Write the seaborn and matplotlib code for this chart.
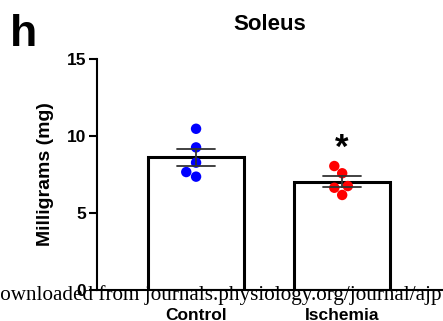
import numpy as np
import pandas as pd
import matplotlib
matplotlib.use("Agg")
import matplotlib.pyplot as plt
import seaborn as sns

# ---- data ----
groups = ["Control", "Ischemia"]
control_mg = [10.47, 9.26, 8.27, 7.66, 7.36]
ischemia_mg = [8.05, 7.58, 6.75, 6.64, 6.17]
point_colors = ["#0000FF", "#FF0000"]
y_ticks = [0, 5, 10, 15]
title = "Soleus"
y_label = "Milligrams (mg)"
panel_letter = "h"
sig_marker = "*"
watermark = "Downloaded from journals.physiology.org/journal/ajp"

df = pd.DataFrame({
    "group": [groups[0]] * len(control_mg) + [groups[1]] * len(ischemia_mg),
    "mg": control_mg + ischemia_mg,
})

sns.set_style("ticks")
plt.rcParams["font.family"] = ["Liberation Sans", "DejaVu Sans"]
plt.rcParams["font.weight"] = "bold"
plt.rcParams["text.color"] = "black"
plt.rcParams["axes.labelcolor"] = "black"
plt.rcParams["xtick.color"] = "black"
plt.rcParams["ytick.color"] = "black"

fig = plt.figure(figsize=(4.43, 3.21), dpi=100)
ax = fig.add_axes([97 / 443, 1 - 290 / 321, 1 - 97 / 443, (290 - 59) / 321])

sns.barplot(data=df, x="group", y="mg", order=groups, errorbar="se",
            capsize=0.26, width=0.66, color="white", edgecolor="black",
            linewidth=2.2, err_kws={"color": "#333333", "linewidth": 1.3, "zorder": 5},
            ax=ax)
sns.swarmplot(data=df, x="group", y="mg", order=groups, hue="group",
              palette=point_colors, size=7.5, legend=False, zorder=4, ax=ax)

ax.set_ylim(0, 15)
ax.set_xlim(-0.678, 1.69)
ax.set_yticks(y_ticks)
ax.set_xlabel("")
ax.set_ylabel(y_label, fontsize=14, fontweight="bold", labelpad=9, color="black")
ax.set_title(title, fontsize=16, fontweight="bold", pad=21, color="black")
for s in ["top", "right"]:
    ax.spines[s].set_visible(False)
for s in ["left", "bottom"]:
    ax.spines[s].set_linewidth(1.5)
    ax.spines[s].set_color("black")
ax.tick_params(axis="y", length=5.8, width=1.5, labelsize=12.5, pad=2,
               colors="black", labelcolor="black")
ax.tick_params(axis="x", length=0, labelsize=12.5, pad=13, labelcolor="black")
for lab in ax.get_xticklabels() + ax.get_yticklabels():
    lab.set_fontweight("bold")
    lab.set_color("black")

# significance marker above Ischemia group
ax.annotate(sig_marker, xy=(1, max(ischemia_mg)), xytext=(0, 1),
            textcoords="offset points", ha="center", va="bottom",
            fontsize=25, fontweight="bold", color="black")

fig.text(10 / 443, 1 - 46 / 321, panel_letter, fontsize=32, fontweight="bold",
         va="baseline", ha="left", color="black")
fig.text(442 / 443, 1 - 300 / 321, watermark, fontsize=15.2, fontweight="normal",
         family=["Liberation Serif"], va="baseline", ha="right", color="black")

fig.savefig("out.png", dpi=100)
